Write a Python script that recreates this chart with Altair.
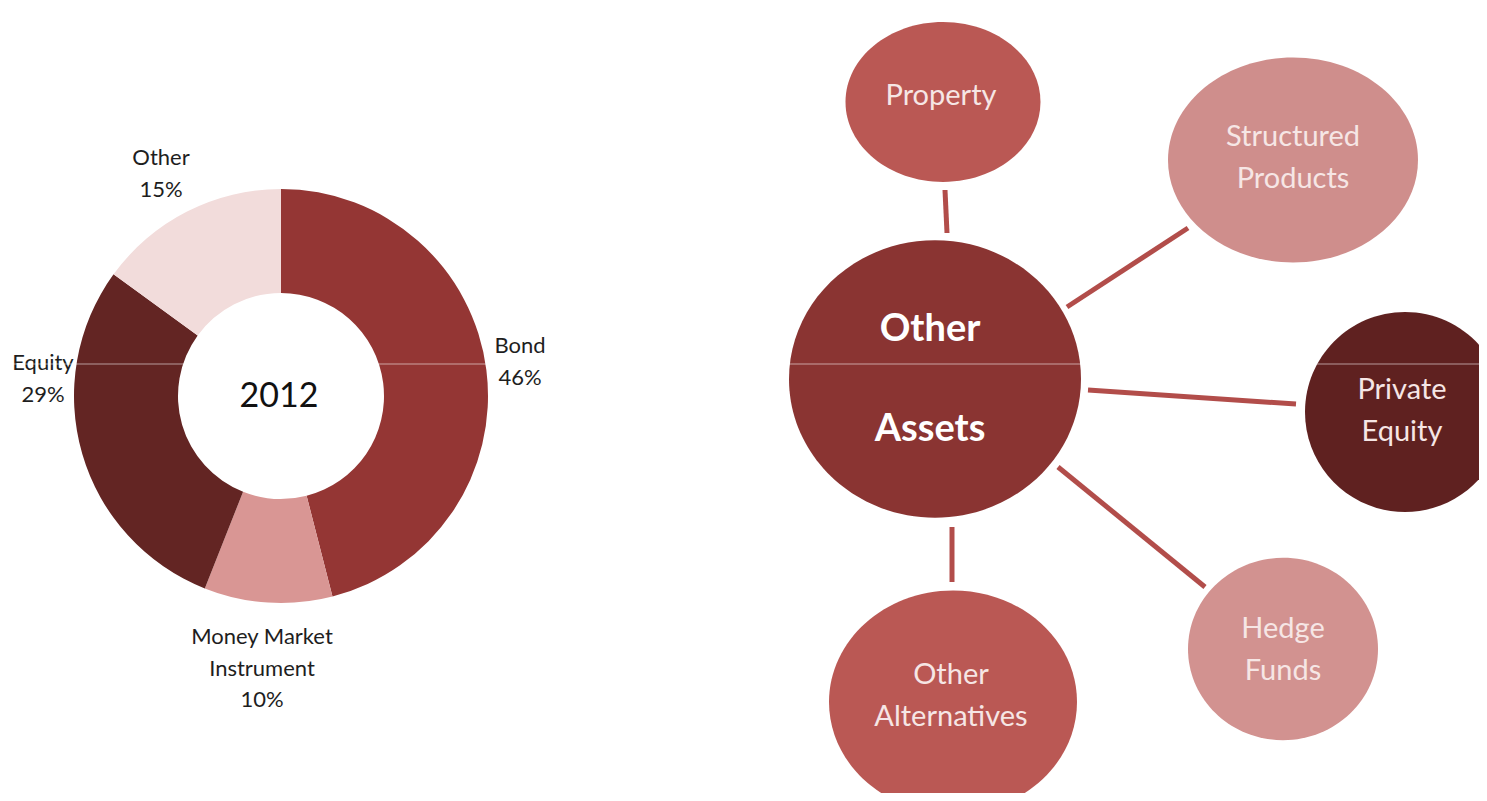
import altair as alt
import pandas as pd

# ---------------- data: donut ----------------
categories = ["Bond", "Money Market Instrument", "Equity", "Other"]
shares = [46, 10, 29, 15]
share_labels = ["Bond\n46%", "Money Market\nInstrument\n10%", "Equity\n29%", "Other\n15%"]
year_label = "2012"

# ---------------- data: diagram ----------------
hub_name = "Other Assets"
hub_label = "Other\nAssets"
nodes = ["Property", "Structured Products", "Private Equity", "Hedge Funds", "Other Alternatives"]
node_labels = ["Property", "Structured\nProducts", "Private\nEquity", "Hedge\nFunds", "Other\nAlternatives"]

# ---------------- layout (pixel frame of the picture) ----------------
DONUT_CX, DONUT_CY = 281, 396
label_x = [520, 262, 43, 161]
label_y = [346, 637, 363, 158]          # first line of each label
year_xy = (279, 397)

hub_xy = (935, 379)
hub_w, hub_aspect = 292, 0.95
hub_text_xy = (930, 330)
node_x = [943, 1293, 1405, 1283, 953]
node_y = [102, 160, 412, 649, 702]
node_w = [195, 250, 200, 190, 248]
node_aspect = [0.82, 0.82, 1.0, 0.96, 0.9]
node_text_x = [941, 1293, 1402, 1283, 951]
node_text_y = [96, 137, 390, 629, 675]   # first line of each label
edge_x1 = [945, 1067, 1088, 1058, 952]
edge_y1 = [190, 307, 390, 467, 527]
edge_x2 = [947, 1188, 1296, 1205, 952]
edge_y2 = [233, 228, 404, 587, 582]

# ---------------- styles ----------------
donut_colors = ["#943634", "#D99694", "#632523", "#F2DCDB"]
node_colors = ["#BA5854", "#CF8E8C", "#5F2120", "#D29290", "#BA5854"]
hub_color = "#8A3432"
edge_color = "#B24D4A"
FONT = "Lato"

X = alt.Scale(domain=[8, 1479], nice=False, zero=False)
Y = alt.Scale(domain=[8, 793], nice=False, zero=False, reverse=True)


def ex(f):
    return alt.X(f, type="quantitative", scale=X, axis=None)


def ey(f):
    return alt.Y(f, type="quantitative", scale=Y, axis=None)


def ellipse(a):
    return f"M-1,0A1,{a} 0 1,1 1,0A1,{a} 0 1,1 -1,0Z"


# donut
donut_df = pd.DataFrame({
    "category": categories,
    "share": shares,
    "order": list(range(len(categories))),
    "cx": DONUT_CX,
    "cy": DONUT_CY,
})
donut = alt.Chart(donut_df).mark_arc(outerRadius=207, innerRadius=103).encode(
    theta=alt.Theta("share:Q", stack=True),
    order=alt.Order("order:Q"),
    color=alt.Color("category:N", scale=alt.Scale(domain=categories, range=donut_colors), legend=None),
    x=ex("cx"),
    y=ey("cy"),
)

lab_df = pd.DataFrame({"t": share_labels, "x": label_x, "y": label_y})
donut_labels = alt.Chart(lab_df).mark_text(
    font=FONT, fontSize=22, color="#1E1E1E", lineBreak="\n", lineHeight=31.5,
    align="center", baseline="middle"
).encode(x=ex("x"), y=ey("y"), text="t:N")

year_df = pd.DataFrame({"t": [year_label], "x": [year_xy[0]], "y": [year_xy[1]]})
year = alt.Chart(year_df).mark_text(
    font=FONT, fontSize=34, color="#111111", align="center", baseline="middle"
).encode(x=ex("x"), y=ey("y"), text="t:N")

# edges
edge_df = pd.DataFrame({"node": nodes, "x1": edge_x1, "y1": edge_y1, "x2": edge_x2, "y2": edge_y2})
edges = alt.Chart(edge_df).mark_rule(color=edge_color, strokeWidth=5).encode(
    x=ex("x1"), y=ey("y1"), x2="x2:Q", y2="y2:Q"
)

# ellipses
all_names = [hub_name] + nodes
ell_df = pd.DataFrame({
    "name": all_names,
    "x": [hub_xy[0]] + node_x,
    "y": [hub_xy[1]] + node_y,
    "w": [hub_w] + node_w,
})
ell_df["area"] = ell_df["w"] ** 2
shapes = [ellipse(hub_aspect)] + [ellipse(a) for a in node_aspect]
bubbles = alt.Chart(ell_df).mark_point(filled=True, opacity=1, strokeWidth=0).encode(
    x=ex("x"), y=ey("y"),
    size=alt.Size("area:Q", scale=None, legend=None),
    shape=alt.Shape("name:N", scale=alt.Scale(domain=all_names, range=shapes), legend=None),
    color=alt.Color("name:N", scale=alt.Scale(domain=all_names, range=[hub_color] + node_colors), legend=None),
)

node_df = pd.DataFrame({"t": node_labels, "x": node_text_x, "y": node_text_y})
node_text = alt.Chart(node_df).mark_text(
    font=FONT, fontSize=29, color="#F6E6E5", lineBreak="\n", lineHeight=42,
    align="center", baseline="middle"
).encode(x=ex("x"), y=ey("y"), text="t:N")

hub_df = pd.DataFrame({"t": [hub_label], "x": [hub_text_xy[0]], "y": [hub_text_xy[1]]})
hub_text = alt.Chart(hub_df).mark_text(
    font=FONT, fontSize=38, fontWeight="bold", color="#FFFFFF", lineBreak="\n", lineHeight=100,
    align="center", baseline="middle"
).encode(x=ex("x"), y=ey("y"), text="t:N")

# faint scan line across the picture
scan_df = pd.DataFrame({"x1": [8], "x2": [1479], "y": [364]})
scan = alt.Chart(scan_df).mark_rule(color="#FFFFFF", opacity=0.55, strokeWidth=1).encode(
    x=ex("x1"), x2="x2:Q", y=ey("y")
)

chart = alt.layer(
    donut, donut_labels, year, edges, bubbles, node_text, hub_text, scan
).resolve_scale(color="independent", shape="independent").properties(
    width=1471, height=785,
    autosize=alt.AutoSizeParams(type="none"),
    padding=0,
).configure_view(stroke=None)

chart.save("out.html", embed_options={"renderer": "svg", "actions": False})
